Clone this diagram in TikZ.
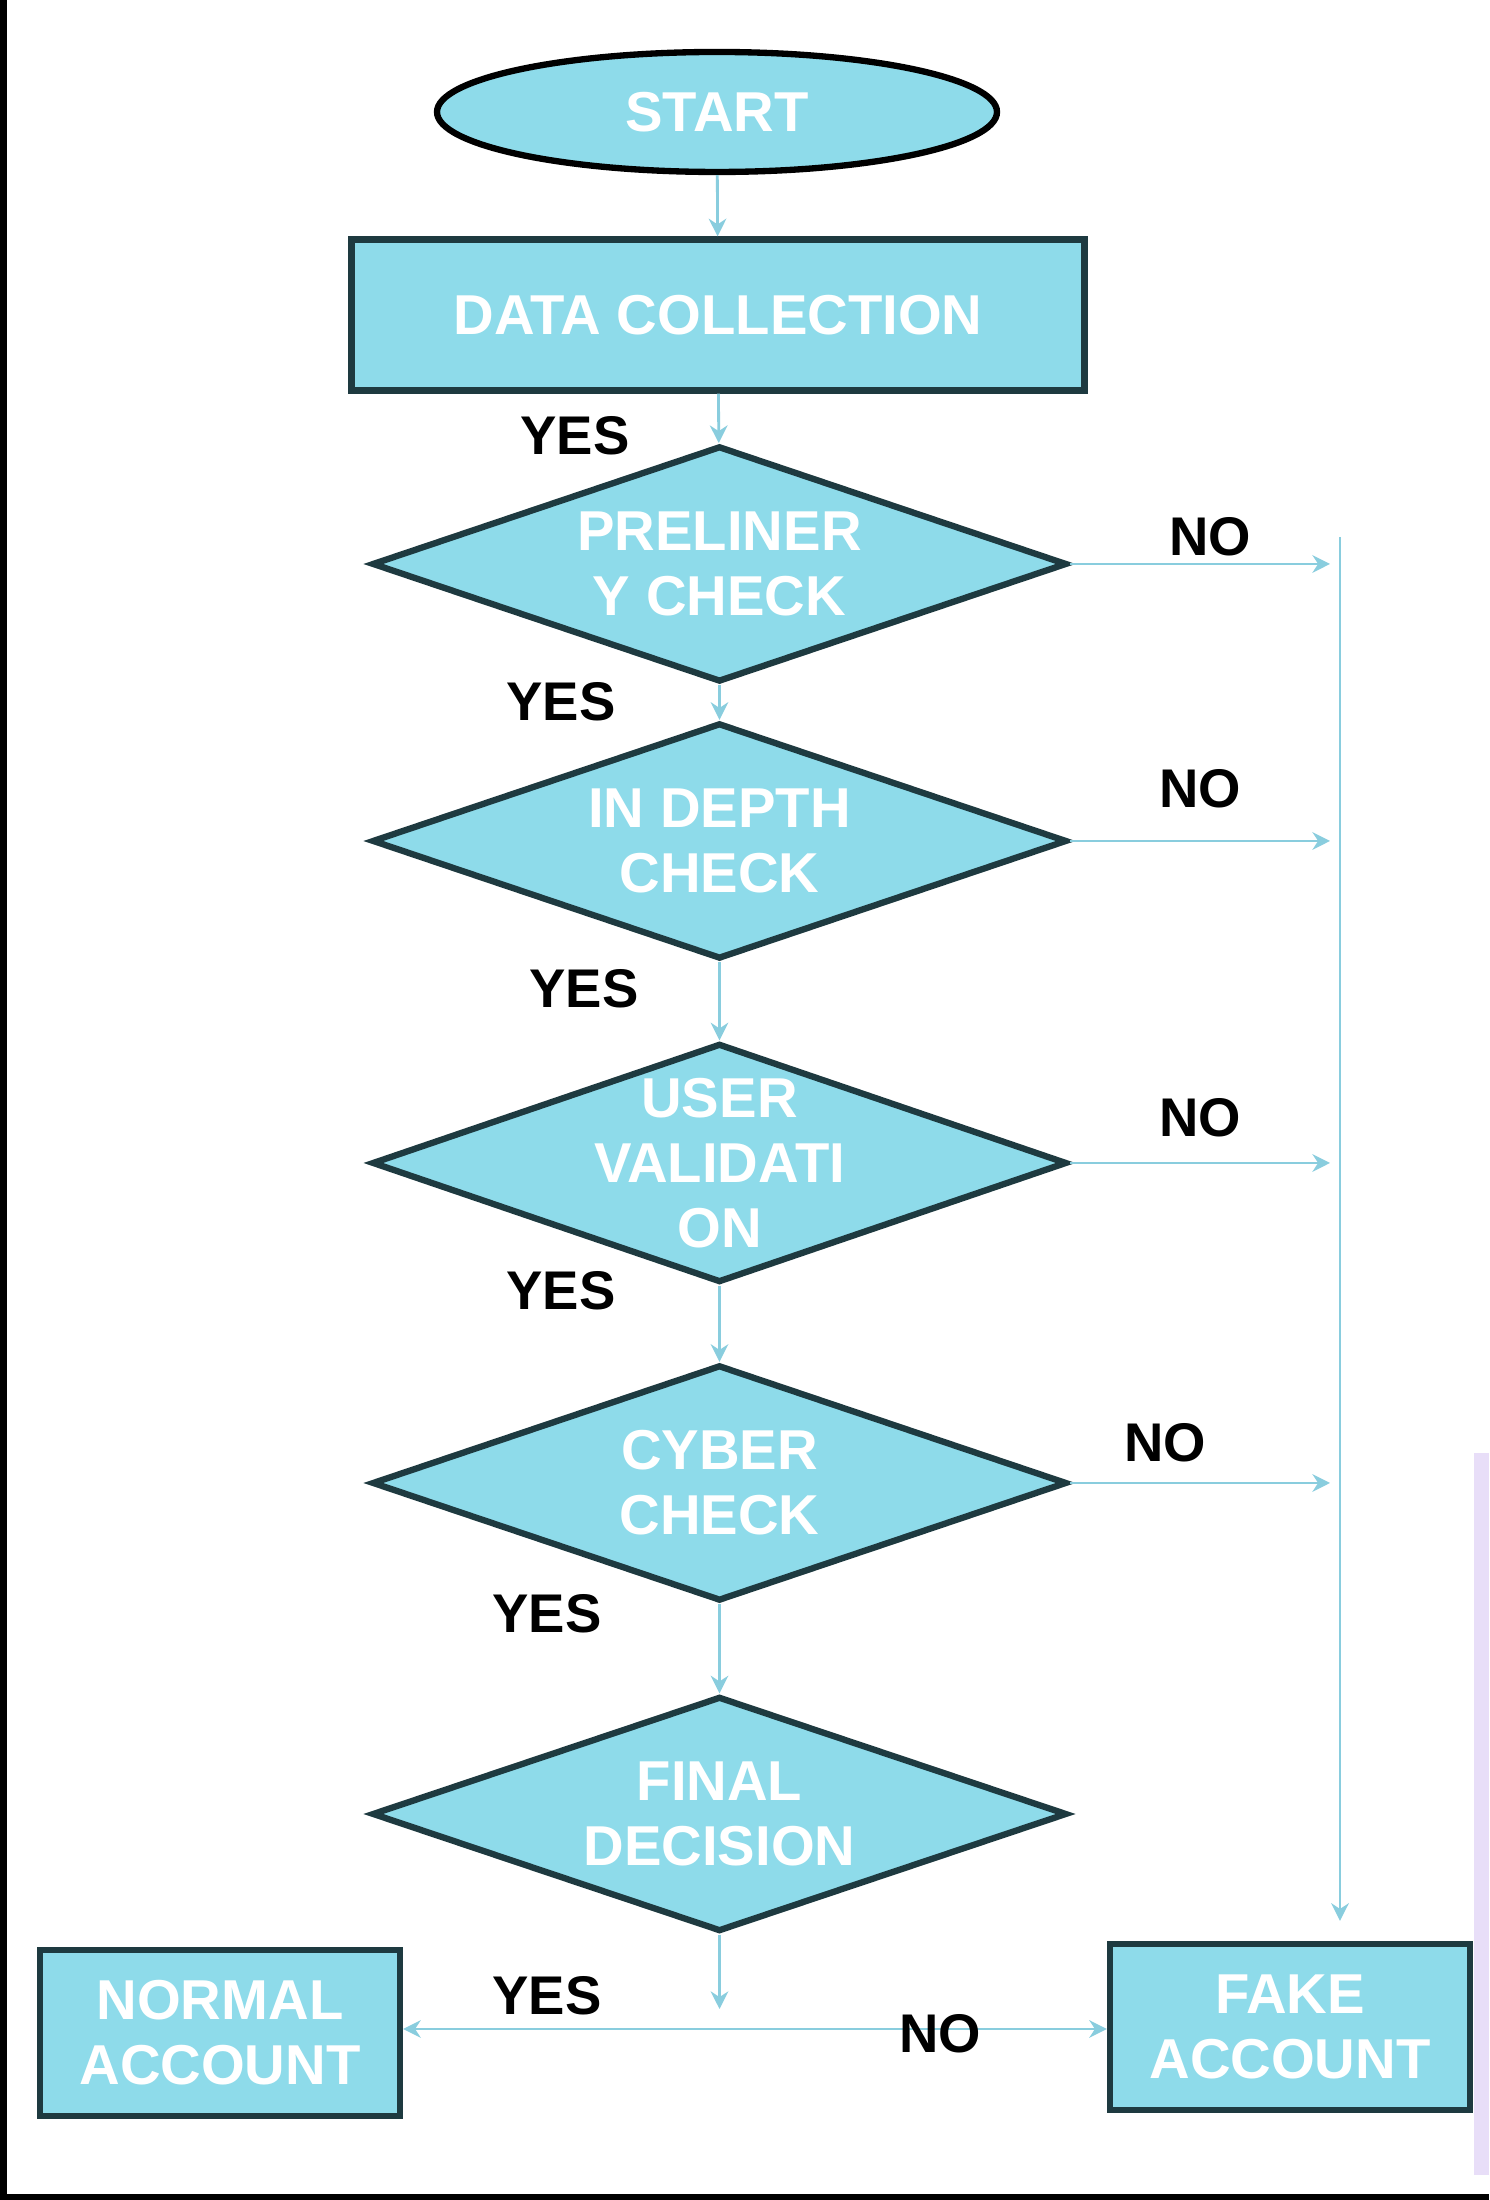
\documentclass[tikz,border=0pt]{standalone}
\usepackage{fontspec}
\setmainfont{Liberation Sans}
\usepackage{tikz}
\usetikzlibrary{shapes.geometric,
  arrows.meta,
  calc,
  positioning}
\definecolor{boxfill}{RGB}{142,219,234}
\definecolor{boxline}{RGB}{30,58,64}
\definecolor{flowline}{RGB}{137,205,222}
\definecolor{edgestrip}{RGB}{232,222,248}

\begin{document}
\begin{tikzpicture}
    % Define styles for nodes and arrows
    \tikzstyle{terminal} = [ellipse, minimum width=5.6cm, minimum height=1.2cm, inner sep=0pt, fill=boxfill, draw=black, line width=1.8pt]
    \tikzstyle{process} = [rectangle, minimum width=7.33cm, minimum height=1.51cm, inner sep=0pt, fill=boxfill, draw=boxline, line width=1.8pt]
    \tikzstyle{decision} = [diamond, minimum width=6.95cm, minimum height=2.36cm, inner sep=0pt, fill=boxfill, draw=boxline, line width=1.8pt]
    \tikzstyle{result} = [rectangle, minimum width=3.6cm, minimum height=1.66cm, inner sep=0pt, fill=boxfill, draw=boxline, line width=1.8pt, align=center]
    \tikzstyle{boxtext} = [text=white, font=\bfseries\fontsize{16}{18.5}\selectfont, align=center]
    \tikzstyle{answer} = [text=black, font=\bfseries\fontsize{15.5}{18}\selectfont]
    % Arrow style for the flow lines
    \tikzset{flow/.style={-{Stealth[length=5pt,width=5pt]}, line width=0.8pt, draw=flowline}}
    % Page frame
    \useasboundingbox (0,0) rectangle (14.89,22);
    \fill[white] (0,0) rectangle (14.89,22);
    \fill[black] (0,0) rectangle (0.07,22);
    \fill[black] (0,0) rectangle (14.89,0.06);
    \fill[edgestrip] (14.74,0.25) rectangle (14.89,7.47);
    % Nodes
    \node (start) [terminal, boxtext] at (7.17,20.88) {START};
    \node (collect) [process, boxtext] at (7.18,18.85) {DATA COLLECTION};
    \node (prelim) [decision] at (7.195,16.36) {};
    \node (prelimtxt) [boxtext] at (prelim) {PRELINER\\Y CHECK};
    \node (indepth) [decision] at (7.195,13.59) {};
    \node (indepthtxt) [boxtext] at (indepth) {IN DEPTH\\CHECK};
    \node (uservalid) [decision, minimum height=2.39cm] at (7.195,10.37) {};
    \node (uservalidtxt) [boxtext] at (uservalid) {USER\\VALIDATI\\ON};
    \node (cyber) [decision] at (7.195,7.17) {};
    \node (cybertxt) [boxtext] at (cyber) {CYBER\\CHECK};
    \node (final) [decision, minimum height=2.35cm] at (7.195,3.86) {};
    \node (finaltxt) [boxtext] at (final) {FINAL\\DECISION};
    \node (normal) [result, boxtext] at (2.20,1.67) {NORMAL\\ACCOUNT};
    \node (fake) [result, boxtext] at (12.90,1.73) {FAKE\\ACCOUNT};
    \coordinate (bustop) at (13.40,16.63);
    \coordinate (split) at (7.195,1.71);
    % Arrows (connections)
    \draw [flow] (start) -- (collect);
    \draw [flow] (collect) -- (prelim);
    \draw [flow] (prelim) -- (indepth);
    \draw [flow] (indepth) -- (uservalid);
    \draw [flow] (uservalid) -- (cyber);
    \draw [flow] (cyber) -- (final);
    \draw [flow, shorten >=0.2cm] (final) -- (split);
    \draw [flow] (split) -- (split -| normal.east);
    \draw [flow] (split) -- (split -| fake.west);
    \draw [flow, shorten >=0.1cm] (prelim.east) -- (prelim.east -| bustop);
    \draw [flow, shorten >=0.1cm] (indepth.east) -- (indepth.east -| bustop);
    \draw [flow, shorten >=0.1cm] (uservalid.east) -- (uservalid.east -| bustop);
    \draw [flow, shorten >=0.1cm] (cyber.east) -- (cyber.east -| bustop);
    \draw [flow, shorten >=0.2cm] (bustop) -- (bustop |- fake.north);
    % Labels
    \node (yes1) [answer] at (5.75,17.64) {YES};
    \node (yes2) [answer] at (5.61,14.98) {YES};
    \node (yes3) [answer] at (5.84,12.11) {YES};
    \node (yes4) [answer] at (5.61,9.09) {YES};
    \node (yes5) [answer] at (5.47,5.86) {YES};
    \node (yes6) [answer] at (5.47,2.04) {YES};
    \node (no1) [answer] at (12.10,16.63) {NO};
    \node (no2) [answer] at (12.00,14.11) {NO};
    \node (no3) [answer] at (12.00,10.82) {NO};
    \node (no4) [answer] at (11.65,7.57) {NO};
    \node (no5) [answer] at (9.40,1.66) {NO};
\end{tikzpicture}
\end{document}
